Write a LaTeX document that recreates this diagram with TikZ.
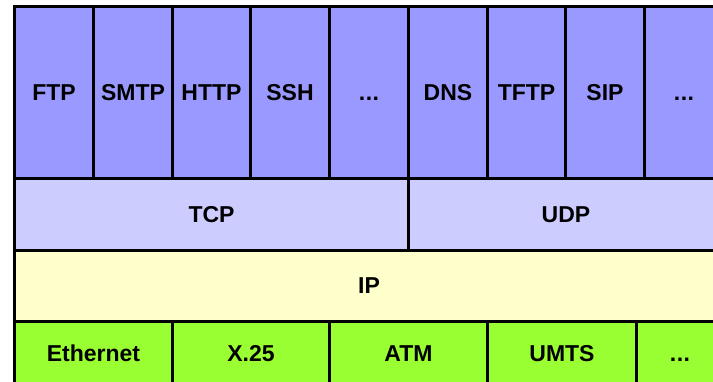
\documentclass[tikz,border=0pt]{standalone}
\usepackage{fontspec}
\setmainfont{Liberation Sans}
\usetikzlibrary{positioning}
\definecolor{appblue}{HTML}{9999FF}
\definecolor{transblue}{HTML}{CCCCFF}
\definecolor{netyellow}{HTML}{FFFFCC}
\definecolor{linkgreen}{HTML}{99FF33}
\newcommand{\moredots}{\vphantom{P}.\kern0.5pt.\kern0.5pt.}
\tikzset{
	layer/.style={draw=black, line width=3pt, inner sep=0pt, anchor=north west, font=\fontsize{23}{27}\selectfont\bfseries},
	app/.style={layer, fill=appblue, minimum height=172pt},
	trans/.style={layer, fill=transblue, minimum height=72pt},
	net/.style={layer, fill=netyellow, minimum height=71pt},
	link/.style={layer, fill=linkgreen, minimum height=64pt}
}
\begin{document}
\begin{tikzpicture}[x=1pt, y=-1pt]
		%%%%% START %%%%%
		\useasboundingbox[fill=white] (0, 0) rectangle (713, 381);
		\clip (0, 0) rectangle (713, 381);
		
		% application layer
		\node[app, minimum width=79pt] (ftp) at (13, 5) {FTP};
		\node[app, minimum width=79pt] (smtp) at (92, 5) {SMTP};
		\node[app, minimum width=78pt] (http) at (171, 5) {HTTP};
		\node[app, minimum width=79pt] (ssh) at (249, 5) {SSH};
		\node[app, minimum width=79pt] (tcpmore) at (328, 5) {\moredots};
		\node[app, minimum width=79pt] (dns) at (407, 5) {DNS};
		\node[app, minimum width=78pt] (tftp) at (486, 5) {TFTP};
		\node[app, minimum width=79pt] (sip) at (564, 5) {SIP};
		\node[app, minimum width=79pt] (udpmore) at (643, 5) {\moredots};
		
		% transport layer
		\node[trans, minimum width=394pt] (tcp) at (13, 177) {TCP};
		\node[trans, minimum width=315pt] (udp) at (407, 177) {UDP};
		
		% network layer
		\node[net, minimum width=709pt] (ip) at (13, 249) {IP};
		
		% link layer
		\node[link, minimum width=158pt] (ethernet) at (13, 320) {Ethernet};
		\node[link, minimum width=157pt] (x25) at (171, 320) {X.25};
		\node[link, minimum width=158pt] (atm) at (328, 320) {ATM};
		\node[link, minimum width=149pt] (umts) at (486, 320) {UMTS};
		\node[link, minimum width=87pt] (linkmore) at (635, 320) {\moredots};
		
		%%%%% END %%%%%
\end{tikzpicture}
\end{document}
